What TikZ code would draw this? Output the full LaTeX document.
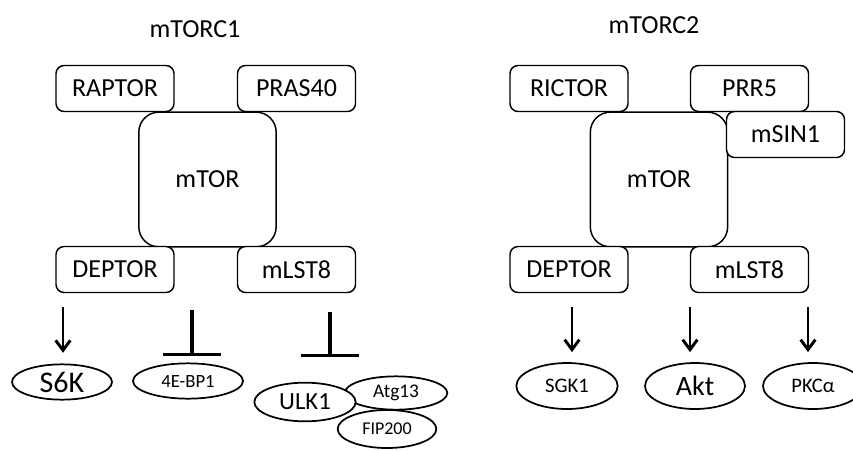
\documentclass[tikz,border=0pt]{standalone}
\usepackage{fontspec}
\setmainfont{Carlito}
\usetikzlibrary{shapes.geometric,arrows.meta}

\begin{document}
\begin{tikzpicture}[x=0.75pt,y=-0.75pt,
  unit/.style={draw,fill=white,rounded corners=6pt,line width=1.1pt,minimum width=88.5pt,minimum height=34.5pt,inner sep=0pt,font=\fontsize{19.5}{21}\selectfont},
  core/.style={unit,minimum width=103pt,minimum height=101pt,rounded corners=15pt},
  target/.style={draw,fill=white,ellipse,line width=1.3pt,inner sep=0pt,minimum width=75pt,minimum height=26.5pt},
  act/.style={line width=2.2pt,-{Straight Barb[length=7.5pt,width=11pt]},shorten >=8pt},
  inh/.style={line width=2.4pt,-{Bar[width=43pt]},shorten >=4.5pt}]
\useasboundingbox (0,0) rectangle (853,450);

\node[font=\fontsize{19.5}{21}\selectfont] (title1) at (195,29) {mTORC1};
\node[core] (mtor1) at (207.5,179.5) {mTOR};
\node[unit] (raptor) at (115,88.5) {RAPTOR};
\node[unit] (pras) at (296.5,88.5) {PRAS40};
\node[unit] (deptor1) at (115,269.5) {DEPTOR};
\node[unit] (mlst1) at (296.5,269.5) {mLST8};

\node[font=\fontsize{19.5}{21}\selectfont] (title2) at (654,25) {mTORC2};
\node[core] (mtor2) at (659,179.5) {mTOR};
\node[unit] (rictor) at (569,88.5) {RICTOR};
\node[unit] (prr) at (749.5,88.5) {PRR5};
\node[unit] (msin) at (785.5,134.5) {mSIN1};
\node[unit] (deptor2) at (569,269.5) {DEPTOR};
\node[unit] (mlst2) at (749.5,269.5) {mLST8};

\node[target,font=\fontsize{22.5}{24}\selectfont] (s6k) at (62,382) {S6K};
\node[target,minimum width=82.5pt,font=\fontsize{14}{16}\selectfont] (bp1) at (188,381) {4E-BP1};
\node[target,minimum width=77pt,minimum height=25pt,font=\fontsize{14.5}{16}\selectfont] (atg) at (396,393) {Atg13};
\node[target,minimum width=76pt,minimum height=29pt,font=\fontsize{18.5}{20}\selectfont] (ulk) at (305,402) {ULK1};
\node[target,minimum width=74pt,minimum height=28.5pt,font=\fontsize{13.5}{15}\selectfont] (fip) at (387,429) {FIP200};

\node[target,minimum width=76pt,minimum height=34.5pt,font=\fontsize{15.5}{17}\selectfont] (sgk) at (567,386) {SGK1};
\node[target,minimum width=75pt,minimum height=34.5pt,font=\fontsize{21}{23}\selectfont] (akt) at (695,386) {Akt};
\node[target,minimum width=75pt,minimum height=34.5pt,font=\fontsize{15.5}{17}\selectfont] (pkc) at (813,386) {PKCα};

\coordinate (s6kin) at (63,307);
\coordinate (bp1in) at (192,310);
\coordinate (ulkin) at (330,312);
\coordinate (sgkin) at (572,307);
\coordinate (aktin) at (690,307);
\coordinate (pkcin) at (808,307);

\draw[act] (s6kin) -- (s6kin |- s6k.north);
\draw[inh] (bp1in) -- (bp1in |- bp1.north);
\draw[inh,shorten >=14pt] (ulkin) -- (ulkin |- atg.north);
\draw[act,shorten >=7.5pt] (sgkin) -- (sgkin |- sgk.north);
\draw[act,shorten >=7.5pt] (aktin) -- (aktin |- akt.north);
\draw[act,shorten >=7.5pt] (pkcin) -- (pkcin |- pkc.north);
\end{tikzpicture}
\end{document}
